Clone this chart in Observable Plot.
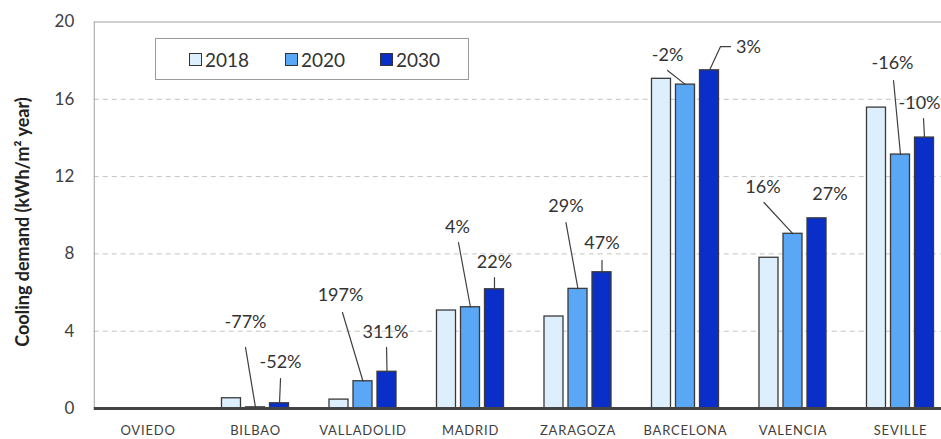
<!DOCTYPE html>
<html><head><meta charset="utf-8">
<script src="https://cdn.jsdelivr.net/npm/d3@7"></script>
<script src="https://cdn.jsdelivr.net/npm/@observablehq/plot@0.6"></script>
<style>
body{margin:0;background:#fff;}
#wrap{position:relative;width:941px;height:439px;overflow:hidden;font-family:Lato,sans-serif;}
#legend{position:absolute;left:155px;top:38px;width:312px;height:40px;border:1px solid #9a9a9a;background:#fff;}
.item{position:absolute;top:0;height:40px;display:flex;align-items:center;font-size:19px;color:#333;}
.sw{width:13px;height:13px;border:1px solid #333;margin-right:3px;box-sizing:border-box;}
#ytitle{position:absolute;left:22px;top:222px;transform:translate(-50%,-50%) rotate(-90deg);white-space:nowrap;font-weight:bold;font-size:18px;color:#222;}
</style></head><body><div id="wrap"></div>
<script>
const cities = ["OVIEDO","BILBAO","VALLADOLID","MADRID","ZARAGOZA","BARCELONA","VALENCIA","SEVILLE"];
const years = ["2018","2020","2030"];
const v2018 = [0, 0.53, 0.46, 5.07, 4.76, 17.06, 7.80, 15.57];
const v2020 = [0, 0.06, 1.41, 5.24, 6.19, 16.76, 9.04, 13.14];
const v2030 = [0, 0.27, 1.90, 6.17, 7.05, 17.50, 9.84, 14.02];
const colors = ["#ddeffd", "#5aa8f5", "#0a2ec8"];
const yTicks = [0, 4, 8, 12, 16, 20];
const gridTicks = [4, 8, 12, 16];

// annotations: percentage change vs 2018
const annCity   = [1, 1, 2, 2, 3, 3, 4, 4, 5, 5, 6, 6, 7, 7];
const annSeries = [1, 2, 1, 2, 1, 2, 1, 2, 1, 2, 1, 2, 1, 2];
const annLabel  = ["-77%","-52%","197%","311%","4%","22%","29%","47%","-2%","3%","16%","27%","-16%","-10%"];
const annTextDx = [-0.093, 0.233, -0.209, 0.209, -0.121, 0.223, -0.112, 0.223, -0.167, 0.586, -0.279, 0.344, -0.074, 0.177];
const annTextY  = [4.45, 2.38, 5.85, 3.93, 9.36, 7.55, 10.45, 8.54, 18.26, 18.68, 11.43, 11.07, 17.85, 15.78];
// leader start points [dx, y] (polyline toward the bar top)
const annLeader = [
  [[-0.093, 3.16]], [[0.233, 1.55]], [[-0.191, 4.97]], [[0.219, 3.16]],
  [[-0.112, 8.59]], [[0.223, 6.78]], [[-0.112, 9.62]], [[0.223, 7.66]],
  [[-0.167, 17.49]], [[0.419, 18.73], [0.326, 18.73]], [[-0.27, 10.66]], [],
  [[-0.065, 16.97]], [[0.214, 15.0]]
];

const series = [v2018, v2020, v2030];
const off = [-0.2233, 0, 0.2233];
const hw = 0.0884;

const barMarks = series.map((vals, s) =>
  Plot.rectY(vals.map((v, i) => ({i, v})), {
    x1: d => d.i + off[s] - hw,
    x2: d => d.i + off[s] + hw,
    y1: 0, y2: "v",
    fill: colors[s], stroke: "#3a3a3a", strokeWidth: 1.3
  })
);

const ann = annLabel.map((t, k) => ({
  text: t,
  x: annCity[k] + annTextDx[k],
  y: annTextY[k]
}));
const leaderPts = [];
annLabel.forEach((t, k) => {
  if (!annLeader[k].length) return;
  const s = annSeries[k], c = annCity[k];
  annLeader[k].forEach(p => leaderPts.push({k, x: c + p[0], y: p[1]}));
  leaderPts.push({k, x: c + off[s], y: series[s][c]});
});

const chart = Plot.plot({
  width: 941, height: 439,
  marginTop: 21.5, marginBottom: 31, marginLeft: 93.75, marginRight: -12.75,
  style: {fontFamily: "Lato, sans-serif", color: "#404040", background: "#fff"},
  x: {domain: [-0.5, 7.5], axis: null},
  y: {domain: [0, 20], axis: null},
  marks: [
    Plot.gridY(gridTicks, {stroke: "#c4c4c4", strokeOpacity: 1, strokeDasharray: "5,4"}),
    ...barMarks,
    Plot.ruleX([-0.5], {y1: 0, y2: 20, stroke: "#a0a0a0"}),
    Plot.ruleY([20], {stroke: "#a0a0a0"}),
    Plot.ruleY([0], {stroke: "#444", strokeWidth: 3}),
    Plot.axisY(yTicks, {tickSize: 0, tickPadding: 20, fontSize: 17, label: null, fill: "#404040"}),
    Plot.axisX(d3.range(cities.length), {tickSize: 0, tickPadding: 17, fontSize: 13, label: null,
      tickFormat: i => cities[i], fill: "#404040"}),
    Plot.line(leaderPts, {x: "x", y: "y", z: "k", stroke: "#404040", strokeWidth: 1.2}),
    Plot.text(ann, {x: "x", y: "y", text: "text", fontSize: 18, fill: "#333"})
  ]
});

const wrap = document.getElementById("wrap");
wrap.appendChild(chart);
d3.select(chart).selectAll('g[aria-label="x-axis tick label"] text').style("letter-spacing", "0.8px");

const legend = document.createElement("div");
legend.id = "legend";
const lx = [33, 129, 224];
years.forEach((y, s) => {
  const it = document.createElement("div");
  it.className = "item";
  it.style.left = lx[s] + "px";
  const sw = document.createElement("div");
  sw.className = "sw"; sw.style.background = colors[s];
  it.appendChild(sw);
  it.appendChild(document.createTextNode(y));
  legend.appendChild(it);
});
wrap.appendChild(legend);

const yt = document.createElement("div");
yt.id = "ytitle";
yt.textContent = "Cooling demand (kWh/m² year)";
wrap.appendChild(yt);
</script></body></html>
